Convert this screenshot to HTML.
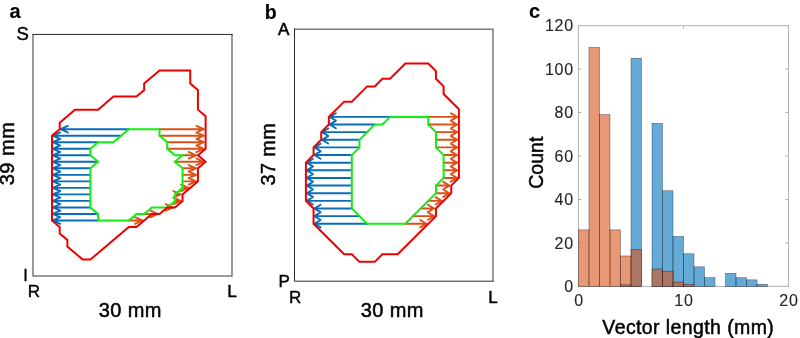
<!DOCTYPE html>
<html>
<head>
<meta charset="utf-8">
<title>Figure</title>
<style>
html,body{margin:0;padding:0;background:#fff;}
body{width:800px;height:338px;overflow:hidden;}
svg{display:block;font-family:"Liberation Sans",sans-serif;}
</style>
</head>
<body>
<svg width="800" height="338" viewBox="0 0 800 338">
<rect width="800" height="338" fill="#fff"/>
<path d="M33 34.4 V276 H232 V34.4" fill="none" stroke="#787878" stroke-width="1.5"/>
<path d="M32.2 34.45 H232.8" fill="none" stroke="#2a2a2a" stroke-width="1"/>
<path d="M128.8 129.2 L60.48 129.2 M67.88 125.9 L60.48 129.2 L67.88 132.5 M121.12 135.72 L52.8 135.72 M60.2 132.42 L52.8 135.72 L60.2 139.02 M98.08 142.24 L52.8 142.24 M60.2 138.94 L52.8 142.24 L60.2 145.54 M90.4 148.76 L52.8 148.76 M60.2 145.46 L52.8 148.76 L60.2 152.06 M90.4 155.28 L52.8 155.28 M60.2 151.98 L52.8 155.28 L60.2 158.58 M98.08 161.8 L52.8 161.8 M60.2 158.5 L52.8 161.8 L60.2 165.1 M90.4 168.32 L52.8 168.32 M60.2 165.02 L52.8 168.32 L60.2 171.62 M90.4 174.84 L52.8 174.84 M60.2 171.54 L52.8 174.84 L60.2 178.14 M90.4 181.36 L52.8 181.36 M60.2 178.06 L52.8 181.36 L60.2 184.66 M90.4 187.88 L52.8 187.88 M60.2 184.58 L52.8 187.88 L60.2 191.18 M90.4 194.4 L52.8 194.4 M60.2 191.1 L52.8 194.4 L60.2 197.7 M90.4 200.92 L52.8 200.92 M60.2 197.62 L52.8 200.92 L60.2 204.22 M90.4 207.44 L52.8 207.44 M60.2 204.14 L52.8 207.44 L60.2 210.74 M98.08 213.96 L52.8 213.96 M60.2 210.66 L52.8 213.96 L60.2 217.26 M98.08 220.48 L52.8 220.48 M60.2 217.18 L52.8 220.48 L60.2 223.78" fill="none" stroke="#0A6DB8" stroke-width="1.9" stroke-linejoin="round" stroke-linecap="round"/>
<path d="M159.52 129.2 L203.8 129.2 M196.4 125.9 L203.8 129.2 L196.4 132.5 M159.52 135.72 L203.8 135.72 M196.4 132.42 L203.8 135.72 L196.4 139.02 M167.2 142.24 L203.8 142.24 M196.4 138.94 L203.8 142.24 L196.4 145.54 M167.2 148.76 L203.8 148.76 M196.4 145.46 L203.8 148.76 L196.4 152.06 M182.56 155.28 L196.12 155.28 M188.72 151.98 L196.12 155.28 L188.72 158.58 M174.88 161.8 L203.8 161.8 M196.4 158.5 L203.8 161.8 L196.4 165.1 M182.56 168.32 L196.12 168.32 M188.72 165.02 L196.12 168.32 L188.72 171.62 M182.56 174.84 L196.12 174.84 M188.72 171.54 L196.12 174.84 L188.72 178.14 M182.56 181.36 L196.12 181.36 M188.72 178.06 L196.12 181.36 L188.72 184.66 M182.56 187.88 L188.44 187.88 M181.04 184.58 L188.44 187.88 L181.04 191.18 M174.88 194.4 L180.76 194.4 M173.36 191.1 L180.76 194.4 L173.36 197.7 M174.88 200.92 L180.76 200.92 M173.36 197.62 L180.76 200.92 L173.36 204.22 M167.2 207.44 L173.08 207.44 M165.68 204.14 L173.08 207.44 L165.68 210.74 M144.16 213.96 L157.72 213.96 M150.32 210.66 L157.72 213.96 L150.32 217.26 M128.8 220.48 L142.36 220.48 M134.96 217.18 L142.36 220.48 L134.96 223.78" fill="none" stroke="#D95319" stroke-width="1.9" stroke-linejoin="round" stroke-linecap="round"/>
<path d="M128.8 129.2 L159.52 129.2 L159.52 135.72 L167.2 142.24 L167.2 148.76 L174.88 155.28 L182.56 155.28 L174.88 161.8 L182.56 168.32 L182.56 187.88 L174.88 194.4 L174.88 200.92 L167.2 207.44 L151.84 207.44 L144.16 213.96 L136.48 213.96 L128.8 220.48 L98.08 220.48 L98.08 213.96 L90.4 207.44 L90.4 168.32 L98.08 161.8 L90.4 155.28 L90.4 148.76 L98.08 142.24 L113.44 142.24 Z" fill="none" stroke="#10F010" stroke-width="2.0" stroke-linejoin="miter"/>
<path d="M159.52 70.52 L190.24 70.52 L190.24 83.56 L197.92 90.08 L197.92 109.64 L205.6 116.16 L205.6 148.76 L197.92 155.28 L205.6 161.8 L197.92 168.32 L197.92 181.36 L182.56 194.4 L182.56 200.92 L174.88 207.44 L167.2 207.44 L159.52 213.96 L151.84 213.96 L136.48 227 L128.8 227 L90.4 259.6 L82.72 259.6 L67.36 246.56 L67.36 240.04 L59.68 233.52 L59.68 227 L52 220.48 L52 135.72 L59.68 129.2 L59.68 122.68 L75.04 109.64 L98.08 109.64 L113.44 96.6 L136.48 96.6 L144.16 90.08 L144.16 83.56 Z" fill="none" stroke="#EE0000" stroke-width="2.0" stroke-linejoin="miter"/>
<path d="M294.5 29.15 H492.95 V281.2" fill="none" stroke="#787878" stroke-width="1.5"/>
<path d="M294.5 28.4 V281.2 H493.7" fill="none" stroke="#2a2a2a" stroke-width="1"/>
<path d="M390.05 116.9 L329.65 116.9 M335.85 113.2 L329.65 116.9 L335.85 120.6 M374.75 124.53 L329.65 124.53 M335.85 120.83 L329.65 124.53 L335.85 128.23 M367.1 132.16 L322 132.16 M328.2 128.46 L322 132.16 L328.2 135.86 M359.45 139.79 L322 139.79 M328.2 136.09 L322 139.79 L328.2 143.49 M359.45 147.42 L314.35 147.42 M320.55 143.72 L314.35 147.42 L320.55 151.12 M351.8 155.05 L314.35 155.05 M320.55 151.35 L314.35 155.05 L320.55 158.75 M351.8 162.68 L306.7 162.68 M312.9 158.98 L306.7 162.68 L312.9 166.38 M351.8 170.31 L306.7 170.31 M312.9 166.61 L306.7 170.31 L312.9 174.01 M351.8 177.94 L306.7 177.94 M312.9 174.24 L306.7 177.94 L312.9 181.64 M351.8 185.57 L306.7 185.57 M312.9 181.87 L306.7 185.57 L312.9 189.27 M351.8 193.2 L306.7 193.2 M312.9 189.5 L306.7 193.2 L312.9 196.9 M351.8 200.83 L306.7 200.83 M312.9 197.13 L306.7 200.83 L312.9 204.53 M351.8 208.46 L314.35 208.46 M320.55 204.76 L314.35 208.46 L320.55 212.16 M359.45 216.09 L314.35 216.09 M320.55 212.39 L314.35 216.09 L320.55 219.79 M367.1 223.72 L314.35 223.72 M320.55 220.02 L314.35 223.72 L320.55 227.42" fill="none" stroke="#0A6DB8" stroke-width="1.9" stroke-linejoin="round" stroke-linecap="round"/>
<path d="M428.3 116.9 L457.1 116.9 M450.9 113.2 L457.1 116.9 L450.9 120.6 M428.3 124.53 L457.1 124.53 M450.9 120.83 L457.1 124.53 L450.9 128.23 M435.95 132.16 L457.1 132.16 M450.9 128.46 L457.1 132.16 L450.9 135.86 M435.95 139.79 L457.1 139.79 M450.9 136.09 L457.1 139.79 L450.9 143.49 M435.95 147.42 L457.1 147.42 M450.9 143.72 L457.1 147.42 L450.9 151.12 M443.6 155.05 L457.1 155.05 M450.9 151.35 L457.1 155.05 L450.9 158.75 M443.6 162.68 L457.1 162.68 M450.9 158.98 L457.1 162.68 L450.9 166.38 M443.6 170.31 L457.1 170.31 M450.9 166.61 L457.1 170.31 L450.9 174.01 M443.6 177.94 L457.1 177.94 M450.9 174.24 L457.1 177.94 L450.9 181.64 M435.95 185.57 L449.45 185.57 M443.25 181.87 L449.45 185.57 L443.25 189.27 M435.95 193.2 L449.45 193.2 M443.25 189.5 L449.45 193.2 L443.25 196.9 M428.3 200.83 L441.8 200.83 M435.6 197.13 L441.8 200.83 L435.6 204.53 M420.65 208.46 L434.15 208.46 M427.95 204.76 L434.15 208.46 L427.95 212.16 M413 216.09 L434.15 216.09 M427.95 212.39 L434.15 216.09 L427.95 219.79 M405.35 223.72 L426.5 223.72 M420.3 220.02 L426.5 223.72 L420.3 227.42" fill="none" stroke="#D95319" stroke-width="1.9" stroke-linejoin="round" stroke-linecap="round"/>
<path d="M390.05 116.9 L428.3 116.9 L428.3 124.53 L435.95 132.16 L435.95 147.42 L443.6 155.05 L443.6 177.94 L435.95 185.57 L435.95 193.2 L405.35 223.72 L367.1 223.72 L351.8 208.46 L351.8 155.05 L359.45 147.42 L359.45 139.79 L374.75 124.53 L382.4 124.53 Z" fill="none" stroke="#10F010" stroke-width="2.0" stroke-linejoin="miter"/>
<path d="M405.35 63.49 L428.3 63.49 L435.95 71.12 L435.95 78.75 L443.6 86.38 L443.6 94.01 L458.9 109.27 L458.9 177.94 L451.25 185.57 L451.25 193.2 L435.95 208.46 L435.95 216.09 L397.7 254.24 L382.4 254.24 L374.75 261.87 L359.45 261.87 L351.8 254.24 L344.15 254.24 L313.55 223.72 L313.55 208.46 L305.9 200.83 L305.9 162.68 L313.55 155.05 L313.55 147.42 L321.2 139.79 L321.2 132.16 L328.85 124.53 L328.85 116.9 L344.15 101.64 L351.8 101.64 L367.1 86.38 L374.75 86.38 L382.4 78.75 L390.05 78.75 Z" fill="none" stroke="#EE0000" stroke-width="2.0" stroke-linejoin="miter"/>
<path d="M578.5 286.4 h3 M788.5 286.4 h-3 M578.5 242.93 h3 M788.5 242.93 h-3 M578.5 199.47 h3 M788.5 199.47 h-3 M578.5 156 h3 M788.5 156 h-3 M578.5 112.53 h3 M788.5 112.53 h-3 M578.5 69.07 h3 M788.5 69.07 h-3 M578.5 25.6 h3 M788.5 25.6 h-3 M578.5 286.4 v-3 M578.5 25.6 v3 M683.5 286.4 v-3 M683.5 25.6 v3 M788.5 286.4 v-3 M788.5 25.6 v3" fill="none" stroke="#9a9a9a" stroke-width="0.8"/>
<rect x="578.5" y="25.6" width="210" height="260.8" fill="none" stroke="#b4b4b4" stroke-width="1"/>
<g fill="#0072BD" fill-opacity="0.6" stroke="#000" stroke-opacity="0.62" stroke-width="0.5"><rect x="620.5" y="284.23" width="10.5" height="2.17"/><rect x="631" y="58.2" width="10.5" height="228.2"/><rect x="652" y="123.4" width="10.5" height="163"/><rect x="662.5" y="190.77" width="10.5" height="95.63"/><rect x="673" y="236.41" width="10.5" height="49.99"/><rect x="683.5" y="253.8" width="10.5" height="32.6"/><rect x="694" y="266.84" width="10.5" height="19.56"/><rect x="704.5" y="277.71" width="10.5" height="8.69"/><rect x="725.5" y="273.36" width="10.5" height="13.04"/><rect x="736" y="277.71" width="10.5" height="8.69"/><rect x="746.5" y="279.88" width="10.5" height="6.52"/><rect x="757" y="284.23" width="10.5" height="2.17"/></g>
<g fill="#D95319" fill-opacity="0.6" stroke="#000" stroke-opacity="0.62" stroke-width="0.5"><rect x="578.5" y="229.89" width="10.5" height="56.51"/><rect x="589" y="47.33" width="10.5" height="239.07"/><rect x="599.5" y="114.71" width="10.5" height="171.69"/><rect x="610" y="229.89" width="10.5" height="56.51"/><rect x="620.5" y="255.97" width="10.5" height="30.43"/><rect x="631" y="249.45" width="10.5" height="36.95"/><rect x="652" y="269.01" width="10.5" height="17.39"/><rect x="662.5" y="271.19" width="10.5" height="15.21"/><rect x="673" y="282.05" width="10.5" height="4.35"/><rect x="683.5" y="284.23" width="10.5" height="2.17"/></g>
<g opacity="0.999">
<text x="9.6" y="18.2" font-size="20" text-anchor="start" font-weight="bold" fill="#000" stroke="#000" stroke-width="0.15">a</text>
<text x="264.8" y="18.5" font-size="19.5" text-anchor="start" font-weight="bold" fill="#000" stroke="#000" stroke-width="0.15">b</text>
<text x="529" y="18.4" font-size="20" text-anchor="start" font-weight="bold" fill="#000" stroke="#000" stroke-width="0.15">c</text>
<text x="22.6" y="40.2" font-size="18.5" text-anchor="middle" font-weight="normal" fill="#000" stroke="#000" stroke-width="0.45">S</text>
<text x="25.45" y="281.4" font-size="16.5" text-anchor="middle" font-weight="normal" fill="#000" stroke="#000" stroke-width="0.35">I</text>
<text x="33.8" y="297.4" font-size="17" text-anchor="middle" font-weight="normal" fill="#000" stroke="#000" stroke-width="0.45">R</text>
<text x="232" y="297.3" font-size="17.3" text-anchor="middle" font-weight="normal" fill="#000" stroke="#000" stroke-width="0.45">L</text>
<text x="130.2" y="316.9" font-size="20" text-anchor="middle" font-weight="normal" fill="#000" letter-spacing="0.4" stroke="#000" stroke-width="0.5">30 mm</text>
<text x="14.4" y="153.5" font-size="20" text-anchor="middle" font-weight="normal" fill="#000" transform="rotate(-90 14.4 153.5)" letter-spacing="0.5" stroke="#000" stroke-width="0.5">39 mm</text>
<text x="283.6" y="35.3" font-size="17" text-anchor="middle" font-weight="normal" fill="#000" stroke="#000" stroke-width="0.6">A</text>
<text x="284.2" y="287.3" font-size="17" text-anchor="middle" font-weight="normal" fill="#000" stroke="#000" stroke-width="0.45">P</text>
<text x="295.2" y="302.6" font-size="17" text-anchor="middle" font-weight="normal" fill="#000" stroke="#000" stroke-width="0.45">R</text>
<text x="492.9" y="302.6" font-size="17" text-anchor="middle" font-weight="normal" fill="#000" stroke="#000" stroke-width="0.45">L</text>
<text x="392.2" y="317.1" font-size="20" text-anchor="middle" font-weight="normal" fill="#000" letter-spacing="0.4" stroke="#000" stroke-width="0.5">30 mm</text>
<text x="275.2" y="154.2" font-size="20" text-anchor="middle" font-weight="normal" fill="#000" transform="rotate(-90 275.2 154.2)" letter-spacing="0.3" stroke="#000" stroke-width="0.5">37 mm</text>
<text x="573.9" y="292" font-size="16" text-anchor="end" font-weight="normal" fill="#262626" letter-spacing="0.75" stroke="#262626" stroke-width="0.12">0</text>
<text x="573.9" y="248.53" font-size="16" text-anchor="end" font-weight="normal" fill="#262626" letter-spacing="0.75" stroke="#262626" stroke-width="0.12">20</text>
<text x="573.9" y="205.07" font-size="16" text-anchor="end" font-weight="normal" fill="#262626" letter-spacing="0.75" stroke="#262626" stroke-width="0.12">40</text>
<text x="573.9" y="161.6" font-size="16" text-anchor="end" font-weight="normal" fill="#262626" letter-spacing="0.75" stroke="#262626" stroke-width="0.12">60</text>
<text x="573.9" y="118.13" font-size="16" text-anchor="end" font-weight="normal" fill="#262626" letter-spacing="0.75" stroke="#262626" stroke-width="0.12">80</text>
<text x="573.9" y="74.67" font-size="16" text-anchor="end" font-weight="normal" fill="#262626" letter-spacing="0.75" stroke="#262626" stroke-width="0.12">100</text>
<text x="573.9" y="31.2" font-size="16" text-anchor="end" font-weight="normal" fill="#262626" letter-spacing="0.75" stroke="#262626" stroke-width="0.12">120</text>
<text x="579" y="305.5" font-size="16" text-anchor="middle" font-weight="normal" fill="#262626" letter-spacing="0.75" stroke="#262626" stroke-width="0.12">0</text>
<text x="684" y="305.5" font-size="16" text-anchor="middle" font-weight="normal" fill="#262626" letter-spacing="0.75" stroke="#262626" stroke-width="0.12">10</text>
<text x="789" y="305.5" font-size="16" text-anchor="middle" font-weight="normal" fill="#262626" letter-spacing="0.75" stroke="#262626" stroke-width="0.12">20</text>
<text x="688.3" y="333.8" font-size="19.5" text-anchor="middle" font-weight="normal" fill="#000" letter-spacing="0.4" stroke="#000" stroke-width="0.5">Vector length (mm)</text>
<text x="543.3" y="162.7" font-size="19.5" text-anchor="middle" font-weight="normal" fill="#000" transform="rotate(-90 543.3 162.7)" stroke="#000" stroke-width="0.5">Count</text>
</g>
</svg>
</body>
</html>
